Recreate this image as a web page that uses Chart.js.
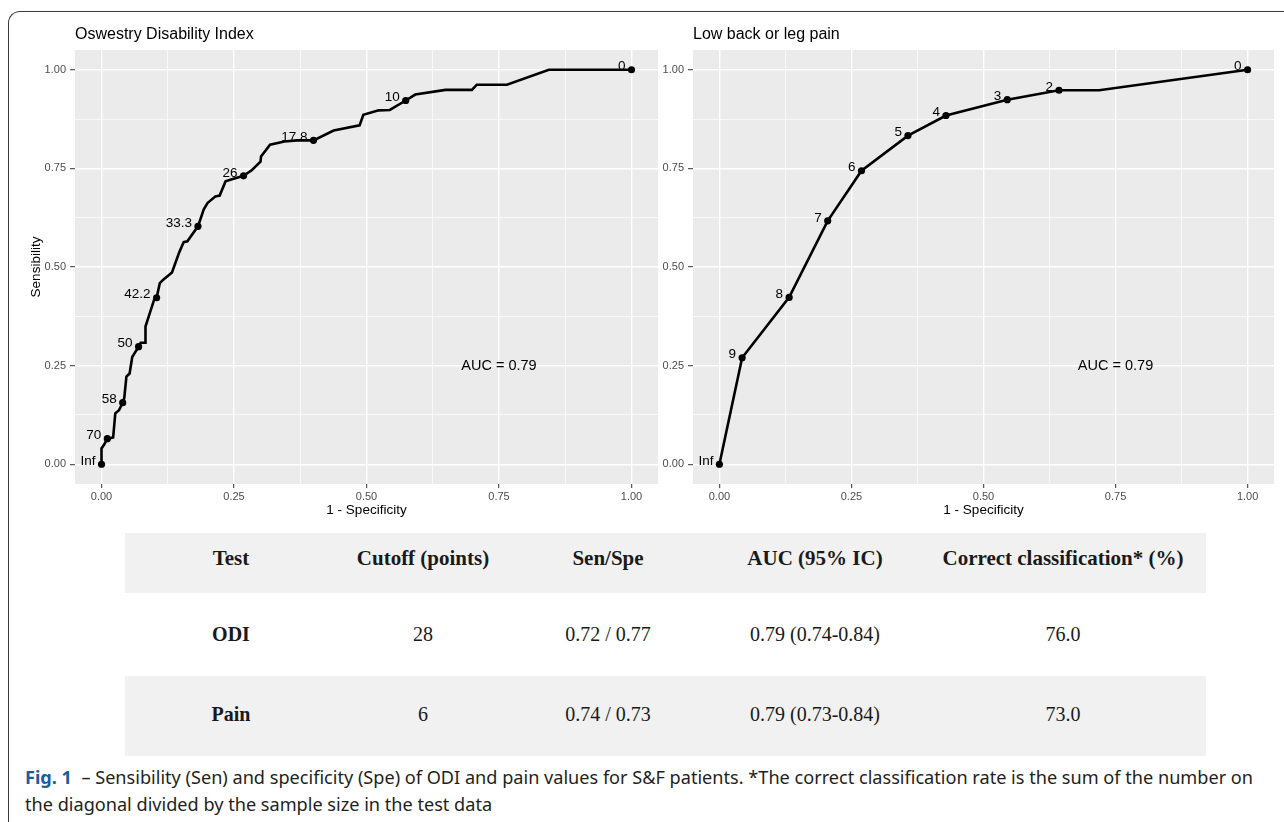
<!DOCTYPE html>
<html>
<head>
<meta charset="utf-8">
<script src="https://cdn.jsdelivr.net/npm/chart.js@4.4.1/dist/chart.umd.min.js"></script>
<style>
  body { margin: 0; background: #fff; width: 1284px; height: 822px; overflow: hidden; position: relative;
         font-family: 'Liberation Sans', Arial, sans-serif; }
  .frame { position: absolute; left: 8px; top: 11px; width: 1320px; height: 850px;
           border-left: 1px solid #3a3a3a; border-top: 1px solid #3a3a3a; border-top-left-radius: 12px; }
  .plot { position: absolute; top: 0; height: 522px; }
  #leftWrap { left: 0; width: 662px; }
  #rightWrap { left: 662px; width: 616px; }
  .tbl { position: absolute; left: 125px; top: 533px; width: 1081px;
         font-family: 'Liberation Serif', 'Times New Roman', serif; color: #1a1a1a; }
  .row { position: relative; }
  .row.shade { background: #f1f1f1; }
  .cell { position: absolute; transform: translate(-50%, -50%); white-space: nowrap; }
  .cap { position: absolute; left: 25px; font-family: 'Noto Sans', sans-serif; font-size: 18px; line-height: 22px;
         color: #231f20; white-space: nowrap; transform-origin: 0 50%; }
  .cap b { color: #1a5c9e; }
</style>
</head>
<body>
<div class="frame"></div>
<div class="plot" id="leftWrap"><canvas id="chartOdi"></canvas></div>
<div class="plot" id="rightWrap"><canvas id="chartPain"></canvas></div>
<div class="tbl" id="tbl"></div>
<div class="cap" id="cap1" style="top:766px"><b>Fig. 1</b>&nbsp; – Sensibility (Sen) and specificity (Spe) of ODI and pain values for S&amp;F patients. *The correct classification rate is the sum of the number on</div>
<div class="cap" id="cap2" style="top:793px">the diagonal divided by the sample size in the test data</div>

<script>
// ── DADOS ──────────────────────────────────────────────────────────────────
// ODI: curva ROC (1 - especificidade, sensibilidade) e pontos de corte rotulados
const odiFpr  = [0, 0, 0.005, 0.011, 0.022, 0.026, 0.033, 0.040, 0.043, 0.047, 0.053, 0.058, 0.070, 0.074, 0.083,
                 0.083, 0.089, 0.099, 0.104, 0.110, 0.116, 0.133, 0.146, 0.155, 0.162, 0.182, 0.193, 0.200, 0.215,
                 0.223, 0.234, 0.243, 0.268, 0.284, 0.300, 0.301, 0.318, 0.345, 0.369, 0.400, 0.438, 0.487, 0.494,
                 0.523, 0.544, 0.574, 0.592, 0.649, 0.699, 0.708, 0.765, 0.844, 1.000];
const odiSens = [0, 0.040, 0.050, 0.065, 0.068, 0.129, 0.137, 0.156, 0.168, 0.222, 0.230, 0.272, 0.298, 0.308, 0.308,
                 0.349, 0.374, 0.416, 0.422, 0.459, 0.467, 0.486, 0.535, 0.563, 0.565, 0.603, 0.646, 0.662, 0.679,
                 0.681, 0.717, 0.721, 0.731, 0.746, 0.767, 0.780, 0.810, 0.818, 0.821, 0.821, 0.846, 0.859, 0.886,
                 0.897, 0.898, 0.922, 0.937, 0.949, 0.949, 0.962, 0.962, 1.000, 1.000];
const odiCut  = ['Inf', '', '', '70', '', '', '', '58', '', '', '', '', '50', '', '',
                 '', '', '', '42.2', '', '', '', '', '', '', '33.3', '', '', '',
                 '', '', '', '26', '', '', '', '', '', '', '17.8', '', '', '',
                 '', '', '10', '', '', '', '', '', '', '0'];

// Dor lombar / perna
const painFpr  = [0, 0.043, 0.132, 0.205, 0.269, 0.357, 0.429, 0.545, 0.643, 0.719, 1.000];
const painSens = [0, 0.270, 0.423, 0.617, 0.744, 0.833, 0.884, 0.924, 0.948, 0.948, 1.000];
const painCut  = ['Inf', '9', '8', '7', '6', '5', '4', '3', '2', '', '0'];

const aucText = 'AUC = 0.79';
const gridSteps = [0, 0.125, 0.25, 0.375, 0.5, 0.625, 0.75, 0.875, 1];

// Tabela
const tableHead = ['Test', 'Cutoff (points)', 'Sen/Spe', 'AUC (95% IC)', 'Correct classification* (%)'];
const tableTests = ['ODI', 'Pain'];
const tableCutoff = ['28', '6'];
const tableSenSpe = ['0.72 / 0.77', '0.74 / 0.73'];
const tableAuc = ['0.79 (0.74-0.84)', '0.79 (0.73-0.84)'];
const tableCorrect = ['76.0', '73.0'];

// ── CHART.JS DEFAULTS ──────────────────────────────────────────────────────
Chart.defaults.font.family = "'Liberation Sans', Arial, sans-serif";
Chart.defaults.color = '#4d4d4d';

const isMajor = v => Math.abs(v * 4 - Math.round(v * 4)) < 1e-6;

// fundo cinza do painel + títulos, AUC e rótulos dos cortes
const panelText = {
  id: 'panelText',
  beforeDraw(chart) {
    const { ctx, chartArea: a } = chart;
    ctx.save();
    ctx.fillStyle = '#ebebeb';
    ctx.fillRect(a.left, a.top, a.right - a.left, a.bottom - a.top);
    ctx.restore();
  },
  afterDatasetsDraw(chart, args, o) {
    const { ctx, chartArea: a, scales: { x, y } } = chart;
    ctx.save();
    ctx.fillStyle = '#000';
    ctx.textBaseline = 'middle';
    ctx.textAlign = 'left';
    ctx.font = "16px 'Liberation Sans', Arial, sans-serif";
    ctx.fillText(o.title, a.left, 35);
    ctx.textAlign = 'center';
    ctx.font = "14.5px 'Liberation Sans', Arial, sans-serif";
    ctx.fillText(o.auc, x.getPixelForValue(0.75), y.getPixelForValue(0.25));
    ctx.textAlign = 'right';
    ctx.font = "13.5px 'Liberation Sans', Arial, sans-serif";
    const meta = chart.getDatasetMeta(0);
    o.labels.forEach((t, i) => {
      if (!t) return;
      const p = meta.data[i];
      ctx.fillText(t, p.x - 6, p.y - 3);
    });
    ctx.restore();
  }
};

function gridOpts(tickLen) {
  return {
    color: '#ffffff',
    lineWidth: c => (c.tick && isMajor(c.tick.value)) ? 1.4 : 0.7,
    tickColor: c => (c.tick && isMajor(c.tick.value)) ? '#333333' : 'rgba(0,0,0,0)',
    tickLength: tickLen,
    tickWidth: 1
  };
}

function rocChart(id, fpr, sens, cut, title, yTitle, yWidth) {
  return new Chart(document.getElementById(id), {
    type: 'scatter',
    data: {
      datasets: [{
        data: fpr.map((v, i) => ({ x: v, y: sens[i] })),
        showLine: true,
        borderColor: '#000',
        borderWidth: 2.6,
        pointRadius: c => cut[c.dataIndex] ? 3.6 : 0,
        pointHoverRadius: 0,
        pointBackgroundColor: '#000',
        pointBorderWidth: 0
      }]
    },
    plugins: [panelText],
    options: {
      responsive: true, maintainAspectRatio: false, animation: false,
      layout: { padding: { top: 50, right: 4, left: 0, bottom: 0 } },
      plugins: {
        legend: { display: false }, tooltip: { enabled: false },
        panelText: { title: title, auc: aucText, labels: cut }
      },
      scales: {
        x: {
          type: 'linear', min: -0.05, max: 1.05,
          afterBuildTicks: s => { s.ticks = gridSteps.map(v => ({ value: v })); },
          afterFit: s => { s.height = 38; },
          grid: gridOpts(4), border: { display: false },
          ticks: { autoSkip: false, maxRotation: 0, padding: 2, font: { size: 11 },
                   callback: v => isMajor(v) ? v.toFixed(2) : '' },
          title: { display: true, text: '1 - Specificity', color: '#000', font: { size: 13.5 },
                   padding: { top: 0, bottom: 4 } }
        },
        y: {
          type: 'linear', min: -0.05, max: 1.05,
          afterBuildTicks: s => { s.ticks = gridSteps.map(v => ({ value: v })); },
          afterFit: s => { s.width = yWidth; },
          grid: gridOpts(5), border: { display: false },
          ticks: { autoSkip: false, padding: 4, font: { size: 11 },
                   callback: v => isMajor(v) ? v.toFixed(2) : '' },
          title: { display: !!yTitle, text: yTitle, color: '#000', font: { size: 13.5 },
                   padding: { top: 28, bottom: 0 } }
        }
      }
    }
  });
}

rocChart('chartOdi', odiFpr, odiSens, odiCut, 'Oswestry Disability Index', 'Sensibility', 75);
rocChart('chartPain', painFpr, painSens, painCut, 'Low back or leg pain', '', 31);

// ── TABELA ─────────────────────────────────────────────────────────────────
const colX = [106, 298, 483, 690, 938];
const rowSpec = [
  { h: 60, cy: 25, shade: true, cells: tableHead, bold: [1, 1, 1, 1, 1], size: 21 },
  { h: 83, cy: 41, shade: false, cells: [tableTests[0], tableCutoff[0], tableSenSpe[0], tableAuc[0], tableCorrect[0]], bold: [1, 0, 0, 0, 0], size: 20 },
  { h: 80, cy: 38, shade: true, cells: [tableTests[1], tableCutoff[1], tableSenSpe[1], tableAuc[1], tableCorrect[1]], bold: [1, 0, 0, 0, 0], size: 20 },
];
const tbl = document.getElementById('tbl');
rowSpec.forEach(r => {
  const row = document.createElement('div');
  row.className = 'row' + (r.shade ? ' shade' : '');
  row.style.height = r.h + 'px';
  r.cells.forEach((t, i) => {
    const c = document.createElement('div');
    c.className = 'cell';
    c.textContent = t;
    c.style.left = colX[i] + 'px';
    c.style.top = r.cy + 'px';
    c.style.fontSize = r.size + 'px';
    c.style.fontWeight = r.bold[i] ? 'bold' : 'normal';
    row.appendChild(c);
  });
  tbl.appendChild(row);
});

// ── LEGENDA (fonte condensada: ajusta largura) ─────────────────────────────
const cap1 = document.getElementById('cap1');
const k = 1228 / cap1.getBoundingClientRect().width;
['cap1', 'cap2'].forEach(id => { document.getElementById(id).style.transform = 'scaleX(' + k + ')'; });
</script>
</body>
</html>
